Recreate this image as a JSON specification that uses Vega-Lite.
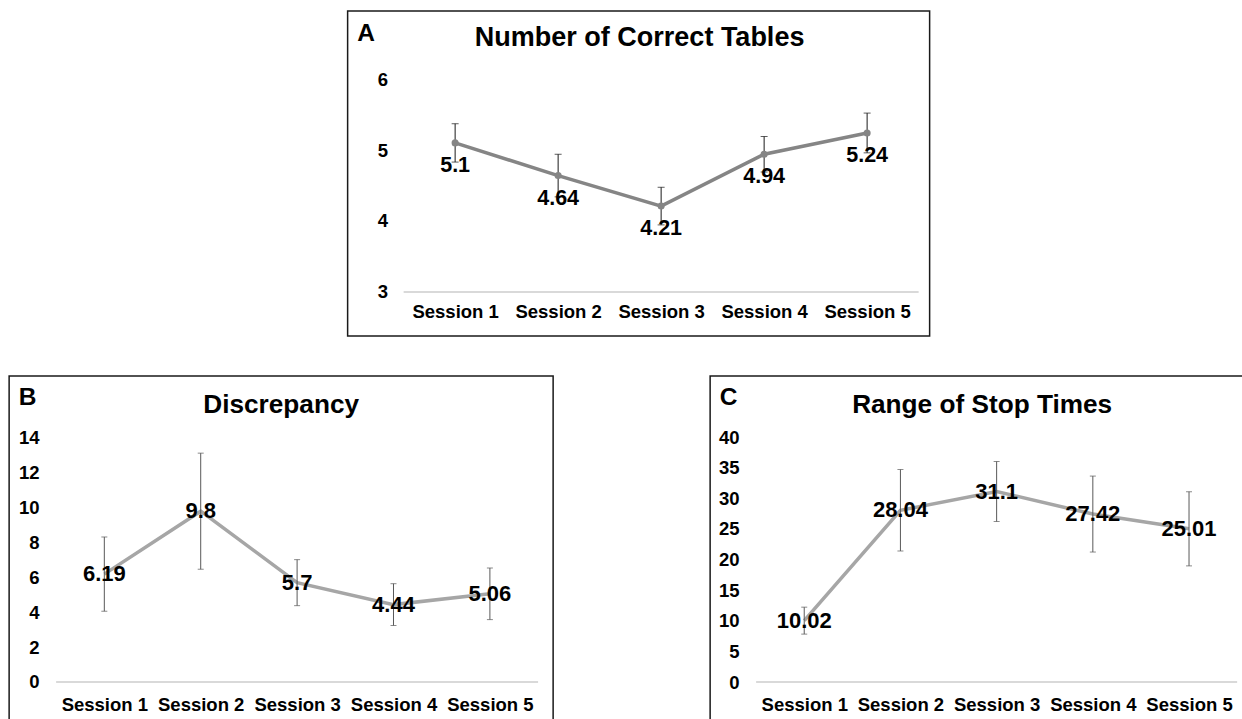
{
  "$schema": "https://vega.github.io/schema/vega-lite/v6.json",
  "usermeta": {"embedOptions": {"actions": false}},
  "padding": {"left": 8, "top": 10, "right": -25, "bottom": -3},
  "center": true,
  "spacing": 38,
  "config": {
    "font": "Liberation Sans",
    "view": {"stroke": "#1a1a1a", "strokeWidth": 1.5},
    "axis": {
      "grid": false, "domain": false, "ticks": false,
      "labelFont": "Liberation Sans", "labelFontWeight": "bold", "labelFontSize": 18.5,
      "labelColor": "#000000", "labelOverlap": false, "labelFlush": false,
      "titleFont": "Liberation Sans", "titleFontWeight": "bold", "titleColor": "#000000"
    },
    "title": {"font": "Liberation Sans", "fontWeight": "bold", "color": "#000000", "anchor": "middle", "frame": "group"}
  },
  "datasets": {
    "A": [
      {"session": 1, "value": 5.1, "err": 0.27},
      {"session": 2, "value": 4.64, "err": 0.3},
      {"session": 3, "value": 4.21, "err": 0.265},
      {"session": 4, "value": 4.94, "err": 0.25},
      {"session": 5, "value": 5.24, "err": 0.28}
    ],
    "B": [
      {"session": 1, "value": 6.19, "err": 2.13},
      {"session": 2, "value": 9.8, "err": 3.33},
      {"session": 3, "value": 5.7, "err": 1.32},
      {"session": 4, "value": 4.44, "err": 1.2},
      {"session": 5, "value": 5.06, "err": 1.48}
    ],
    "C": [
      {"session": 1, "value": 10.02, "err": 2.2},
      {"session": 2, "value": 28.04, "err": 6.65},
      {"session": 3, "value": 31.1, "err": 4.9},
      {"session": 4, "value": 27.42, "err": 6.2},
      {"session": 5, "value": 25.01, "err": 6.05}
    ]
  },
  "vconcat": [
    {
      "width": 582, "height": 325,
      "title": {"text": "Number of Correct Tables", "fontSize": 27, "offset": -62, "baseline": "alphabetic", "dx": 1},
      "data": {"name": "A"},
      "encoding": {
        "x": {"field": "session", "type": "quantitative", "scale": {"domain": [-0.0437, 5.6068], "nice": false, "zero": false},
          "axis": {"values": [1, 2, 3, 4, 5], "labelExpr": "'Session ' + datum.value", "offset": -44, "labelPadding": 25, "labelBaseline": "alphabetic", "title": null}},
        "y": {"field": "value", "type": "quantitative", "scale": {"domain": [2.38, 6.958], "nice": false, "zero": false},
          "axis": {"values": [3, 4, 5, 6], "offset": -40, "labelPadding": 0, "labelBaseline": "middle", "title": "A", "titleAngle": 0, "titleAlign": "left", "titleBaseline": "alphabetic", "titleX": -31, "titleY": 29, "titleFontSize": 24.5}}
      },
      "layer": [
        {
          "data": {"values": [{"session": 0.5, "session_end": 5.5, "value": 3}]},
          "mark": {"type": "rule", "color": "#d9d9d9", "strokeWidth": 2},
          "encoding": {"x2": {"field": "session_end"}}
        },
        {"mark": {"type": "line", "color": "#858585", "strokeWidth": 3.5}},
        {
          "mark": {"type": "errorbar", "color": "#1a1a1a", "thickness": 1, "ticks": {"size": 7}},
          "encoding": {"yError": {"field": "err"}}
        },
        {"mark": {"type": "point", "filled": true, "color": "#858585", "size": 50, "opacity": 1}},
        {
          "mark": {"type": "text", "dy": 23, "fontSize": 21.5, "fontWeight": "bold", "color": "#000000", "baseline": "middle"},
          "encoding": {"text": {"field": "value", "type": "nominal"}}
        }
      ]
    },
    {
      "hconcat": [
        {
          "width": 544, "height": 346,
          "title": {"text": "Discrepancy", "fontSize": 26.2, "offset": -63, "baseline": "alphabetic"},
          "data": {"name": "B"},
          "encoding": {
            "x": {"field": "session", "type": "quantitative", "scale": {"domain": [0.0124, 5.656], "nice": false, "zero": false},
              "axis": {"values": [1, 2, 3, 4, 5], "labelExpr": "'Session ' + datum.value", "offset": -40, "labelPadding": 28, "labelBaseline": "alphabetic", "title": null}},
            "y": {"field": "value", "type": "quantitative", "scale": {"domain": [-2.295, 17.556], "nice": false, "zero": false},
              "axis": {"values": [0, 2, 4, 6, 8, 10, 12, 14], "offset": -30, "labelPadding": 0, "labelBaseline": "middle", "title": "B", "titleAngle": 0, "titleAlign": "left", "titleBaseline": "alphabetic", "titleX": -21, "titleY": 28, "titleFontSize": 24.5}}
          },
          "layer": [
            {
              "data": {"values": [{"session": 0.5, "session_end": 5.5, "value": 0}]},
              "mark": {"type": "rule", "color": "#d9d9d9", "strokeWidth": 2},
              "encoding": {"x2": {"field": "session_end"}}
            },
            {"mark": {"type": "line", "color": "#a6a6a6", "strokeWidth": 3.5}},
            {
              "mark": {"type": "errorbar", "color": "#595959", "thickness": 1, "ticks": {"size": 6}},
              "encoding": {"yError": {"field": "err"}}
            },
            {
              "mark": {"type": "text", "fontSize": 22, "fontWeight": "bold", "color": "#000000", "baseline": "middle"},
              "encoding": {"text": {"field": "value", "type": "nominal"}}
            }
          ]
        },
        {
          "width": 558, "height": 346,
          "title": {"text": "Range of Stop Times", "fontSize": 26.2, "offset": -63, "baseline": "alphabetic", "dx": -7},
          "data": {"name": "C"},
          "encoding": {
            "x": {"field": "session", "type": "quantitative", "scale": {"domain": [0.0218, 5.8222], "nice": false, "zero": false},
              "axis": {"values": [1, 2, 3, 4, 5], "labelExpr": "'Session ' + datum.value", "offset": -40, "labelPadding": 28, "labelBaseline": "alphabetic", "title": null}},
            "y": {"field": "value", "type": "quantitative", "scale": {"domain": [-6.53, 49.96], "nice": false, "zero": false},
              "axis": {"values": [0, 5, 10, 15, 20, 25, 30, 35, 40], "offset": -29, "labelPadding": 0, "labelBaseline": "middle", "title": "C", "titleAngle": 0, "titleAlign": "left", "titleBaseline": "alphabetic", "titleX": -20, "titleY": 28.5, "titleFontSize": 24.5}}
          },
          "layer": [
            {
              "data": {"values": [{"session": 0.5, "session_end": 5.5, "value": 0}]},
              "mark": {"type": "rule", "color": "#d9d9d9", "strokeWidth": 2},
              "encoding": {"x2": {"field": "session_end"}}
            },
            {"mark": {"type": "line", "color": "#a6a6a6", "strokeWidth": 3.5}},
            {
              "mark": {"type": "errorbar", "color": "#595959", "thickness": 1, "ticks": {"size": 6}},
              "encoding": {"yError": {"field": "err"}}
            },
            {
              "mark": {"type": "text", "fontSize": 22, "fontWeight": "bold", "color": "#000000", "baseline": "middle"},
              "encoding": {"text": {"field": "value", "type": "nominal"}}
            }
          ]
        }
      ],
      "spacing": 155
    }
  ]
}
